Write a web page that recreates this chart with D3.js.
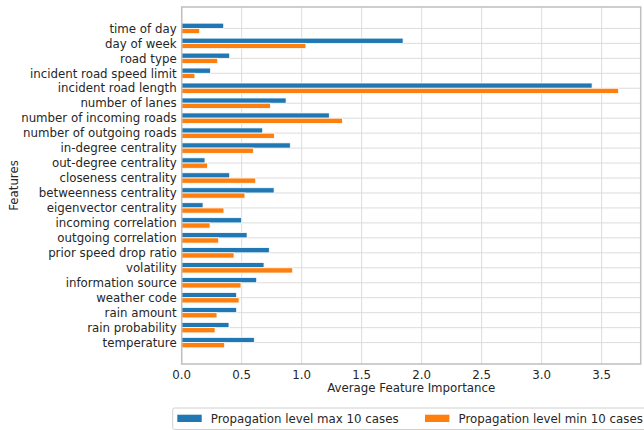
<!DOCTYPE html>
<html>
<head>
<meta charset="utf-8">
<script src="https://cdn.jsdelivr.net/npm/d3@7"></script>
<style>
  body { margin: 0; background: #fff; }
  svg { display: block; font-family: "DejaVu Sans", sans-serif; }
</style>
</head>
<body>
<div id="container"><svg></svg></div>
<script>
let width = 644;
let height = 430;

// features, top to bottom
let features = [
    "time of day", "day of week", "road type", "incident road speed limit",
    "incident road length", "number of lanes", "number of incoming roads",
    "number of outgoing roads", "in-degree centrality", "out-degree centrality",
    "closeness centrality", "betweenness centrality", "eigenvector centrality",
    "incoming correlation", "outgoing correlation", "prior speed drop ratio",
    "volatility", "information source", "weather code", "rain amount",
    "rain probability", "temperature"
];
// Propagation level max 10 cases
let maxCases = [0.35, 1.845, 0.40, 0.24, 3.42, 0.87, 1.23, 0.675, 0.905, 0.194,
    0.40, 0.77, 0.178, 0.50, 0.545, 0.73, 0.686, 0.625, 0.458, 0.458, 0.394, 0.605];
// Propagation level min 10 cases
let minCases = [0.15, 1.035, 0.30, 0.11, 3.64, 0.74, 1.34, 0.772, 0.597, 0.216,
    0.617, 0.527, 0.352, 0.236, 0.308, 0.436, 0.925, 0.494, 0.478, 0.294, 0.278, 0.358];
let xTicks = [0, 0.5, 1.0, 1.5, 2.0, 2.5, 3.0, 3.5];
let seriesNames = ["Propagation level max 10 cases", "Propagation level min 10 cases"];
let colors = ["#1f77b4", "#ff7f0e"];

let pLeft = 181.7, pRight = 640.7, pTop = 7, pBottom = 364;
let barH = 0.35;

function draw_chart() {
    let svg = d3.select('#container').select('svg')
        .attr('width', width)
        .attr('height', height);

    let x = d3.scaleLinear().domain([0, 3.825]).range([pLeft, pRight]);
    let y = d3.scaleLinear().domain([-1.43, features.length - 1 + 1.43]).range([pTop, pBottom]);

    // grid
    let grid = svg.append("g").attr("stroke", "#dcdcdc").attr("stroke-width", 1);
    grid.selectAll("line.v").data(xTicks).join("line")
        .attr("class", "v")
        .attr("x1", d => x(d)).attr("x2", d => x(d))
        .attr("y1", pTop).attr("y2", pBottom);
    grid.selectAll("line.h").data(features).join("line")
        .attr("class", "h")
        .attr("x1", pLeft).attr("x2", pRight)
        .attr("y1", (d, i) => y(i)).attr("y2", (d, i) => y(i));

    // bars
    let series = [maxCases, minCases];
    series.forEach(function (vals, s) {
        svg.append("g")
            .attr("fill", colors[s])
            .attr("stroke", "#fff")
            .attr("stroke-width", 0.8)
            .selectAll("rect")
            .data(vals)
            .join("rect")
            .attr("x", x(0))
            .attr("y", (d, i) => s == 0 ? y(i - barH) : y(i))
            .attr("width", d => x(d) - x(0))
            .attr("height", y(barH) - y(0));
    });

    // frame
    svg.append("rect")
        .attr("x", pLeft).attr("y", pTop)
        .attr("width", pRight - pLeft).attr("height", pBottom - pTop)
        .attr("fill", "none")
        .attr("stroke", "#bfbfbf")
        .attr("stroke-width", 1.5);

    // y tick labels
    svg.append("g").selectAll("text").data(features).join("text")
        .attr("x", pLeft - 5)
        .attr("y", (d, i) => y(i))
        .attr("dy", "0.36em")
        .attr("text-anchor", "end")
        .attr("font-size", 11.8)
        .attr("fill", "#262626")
        .text(d => d);

    // x tick labels
    svg.append("g").selectAll("text").data(xTicks).join("text")
        .attr("x", d => x(d))
        .attr("y", 379)
        .attr("text-anchor", "middle")
        .attr("font-size", 11.8)
        .attr("fill", "#262626")
        .text(d => d.toFixed(1));

    // axis titles
    svg.append("text")
        .attr("x", (pLeft + pRight) / 2)
        .attr("y", 392)
        .attr("text-anchor", "middle")
        .attr("font-size", 11.8)
        .attr("fill", "#262626")
        .text("Average Feature Importance");

    svg.append("text")
        .attr("transform", "translate(18," + ((pTop + pBottom) / 2) + ") rotate(-90)")
        .attr("text-anchor", "middle")
        .attr("font-size", 11.8)
        .attr("fill", "#262626")
        .text("Features");

    // legend
    svg.append("rect")
        .attr("x", 172.7).attr("y", 408)
        .attr("width", 490).attr("height", 21.5)
        .attr("rx", 2)
        .attr("fill", "#fff")
        .attr("stroke", "#d0d0d0")
        .attr("stroke-width", 1);
    let legendX = [177.3, 425];
    let leg = svg.append("g").selectAll("g").data(seriesNames).join("g")
        .attr("transform", (d, i) => "translate(" + legendX[i] + ",0)");
    leg.append("rect")
        .attr("x", 0).attr("y", 414.7)
        .attr("width", 24.4).attr("height", 7.3)
        .attr("fill", (d, i) => colors[i]);
    leg.append("text")
        .attr("x", 33.5).attr("y", 418.5)
        .attr("dy", "0.36em")
        .attr("font-size", 11.8)
        .attr("fill", "#262626")
        .text(d => d);
}

draw_chart();
</script>
</body>
</html>
